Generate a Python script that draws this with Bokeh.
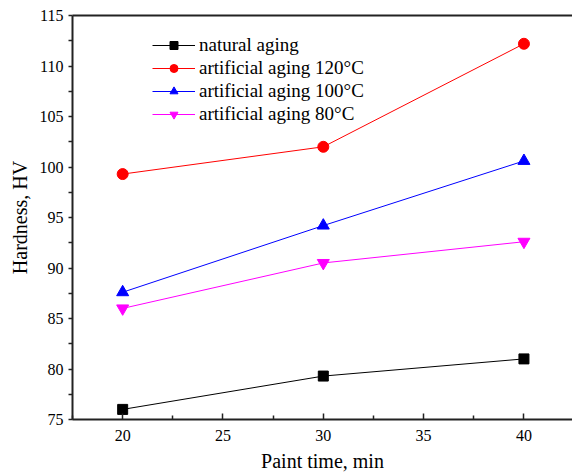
from bokeh.plotting import figure
from bokeh.models import LinearAxis, Legend, LegendItem, FixedTicker
from bokeh.embed import file_html
from bokeh.resources import INLINE

paint_time = [20, 30, 40]
natural = [76.0, 79.3, 81.0]
art120 = [99.3, 102.0, 112.2]
art100 = [87.6, 94.2, 100.6]
art80 = [86.0, 90.5, 92.6]

FONT = "Liberation Serif"

p = figure(width=572, height=475, output_backend="svg", toolbar_location=None,
           x_range=(17.5, 42.42), y_range=(75, 115),
           min_border_left=72, min_border_right=0, min_border_top=15, min_border_bottom=56,
           x_axis_label="Paint time, min", y_axis_label="Hardness, HV")
p.outline_line_color = None
p.grid.visible = False
p.background_fill_color = "white"

series = [
    (natural, "black", "square", "natural aging", 10),
    (art120, "red", "circle", "artificial aging 120\u00b0C", 11),
    (art100, "blue", "triangle", "artificial aging 100\u00b0C", 12),
    (art80, "magenta", "inverted_triangle", "artificial aging 80\u00b0C", 12),
]
items = []
for ys, c, m, lab, sz in series:
    r1 = p.line(paint_time, ys, line_color=c, line_width=1)
    r2 = p.scatter(paint_time, ys, marker=m, size=sz, fill_color=c, line_color=c)
    items.append(LegendItem(label=lab, renderers=[r1, r2]))

xa = p.xaxis[0]
xa.ticker = FixedTicker(ticks=[20, 25, 30, 35, 40], minor_ticks=[17.5, 22.5, 27.5, 32.5, 37.5, 42.5])
xa.major_tick_in = 6
xa.major_tick_out = 0
xa.minor_tick_in = 4
xa.minor_tick_out = 0
xa.major_label_standoff = 10
xa.axis_label_standoff = 6

ya = p.yaxis[0]
ya.ticker = FixedTicker(ticks=[75, 80, 85, 90, 95, 100, 105, 110, 115],
                        minor_ticks=[77.5, 82.5, 87.5, 92.5, 97.5, 102.5, 107.5, 112.5])
ya.major_tick_in = 0
ya.major_tick_out = 4
ya.minor_tick_in = 0
ya.minor_tick_out = 4
ya.major_label_standoff = 5
ya.axis_label_standoff = 6

for ax in (xa, ya):
    ax.axis_line_width = 2
    ax.axis_line_color = "#222222"
    ax.major_tick_line_color = "#222222"
    ax.minor_tick_line_color = "#222222"
    ax.major_tick_line_width = 1.5
    ax.minor_tick_line_width = 1.5
    ax.major_label_text_font = FONT
    ax.major_label_text_font_style = "normal"
    ax.major_label_text_font_size = "16px"
    ax.major_label_text_color = "black"
    ax.axis_label_text_font = FONT
    ax.axis_label_text_font_size = "20px"
    ax.axis_label_text_font_style = "normal"
    ax.axis_label_text_color = "black"

top = LinearAxis(axis_line_width=2, axis_line_color="#222222",
                 ticker=FixedTicker(ticks=[], minor_ticks=[]),
                 major_tick_line_color=None, minor_tick_line_color=None)
p.add_layout(top, "above")

legend = Legend(items=items, location=(80, 294), margin=0, padding=10,
                border_line_color=None, background_fill_alpha=0,
                glyph_width=43, glyph_height=20, label_height=20, spacing=1,
                label_standoff=4, label_text_font=FONT, label_text_font_style="normal",
                label_text_font_size="19px", label_text_color="black")
p.add_layout(legend, "center")

open("out.html", "w").write(file_html(p, INLINE))
